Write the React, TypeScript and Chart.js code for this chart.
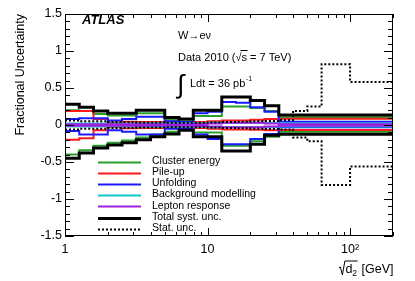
import React, { useEffect, useRef } from 'react';
import { Chart, registerables } from 'chart.js';

Chart.register(...registerables);

// Bin edges of sqrt(d2) in GeV
const binEdges = [1, 1.259, 1.585, 1.995, 2.512, 3.162, 3.981, 5.012, 6.31, 7.943, 10, 12.59, 15.85, 19.95, 25.12, 31.62, 39.81, 50.12, 63.1, 100, 200];

const clusterUp = [0.2, 0.19, 0.15, 0.13, 0.13, 0.16, 0.16, 0.07, 0.05, 0.12, 0.12, 0.25, 0.25, 0.23, 0.19, 0.105, 0.105, 0.105, 0.105, 0.105];
const clusterDown = [-0.4, -0.34, -0.28, -0.24, -0.21, -0.17, -0.13, -0.09, -0.05, -0.1, -0.1, -0.28, -0.28, -0.22, -0.16, -0.09, -0.09, -0.09, -0.09, -0.09];
const pileupUp = [0.19, 0.19, 0.08, 0.03, 0.045, 0.04, 0.04, 0.03, 0.03, 0.04, 0.05, 0.06, 0.06, 0.07, 0.08, 0.085, 0.085, 0.085, 0.085, 0.085];
const pileupDown = [-0.2, -0.18, -0.07, -0.03, -0.045, -0.04, -0.04, -0.03, -0.03, -0.04, -0.05, -0.06, -0.06, -0.065, -0.07, -0.068, -0.068, -0.068, -0.068, -0.068];
const unfoldUp = [0.08, 0.09, 0.09, 0.06, 0.08, 0.11, 0.11, 0.05, 0.04, 0.16, 0.18, 0.31, 0.3, 0.24, 0.18, 0.045, 0.045, 0.045, 0.045, 0.045];
const unfoldDown = [-0.08, -0.13, -0.13, -0.07, -0.09, -0.13, -0.13, -0.05, -0.04, -0.13, -0.19, -0.26, -0.26, -0.19, -0.12, -0.03, -0.03, -0.03, -0.03, -0.03];
const bkgUp = [0.02, 0.02, 0.02, 0.02, 0.02, 0.02, 0.025, 0.025, 0.025, 0.025, 0.03, 0.03, 0.03, 0.03, 0.03, 0.02, 0.02, 0.02, 0.02, 0.02];
const bkgDown = [-0.02, -0.02, -0.02, -0.02, -0.02, -0.02, -0.025, -0.025, -0.025, -0.025, -0.03, -0.03, -0.03, -0.03, -0.03, -0.02, -0.02, -0.02, -0.02, -0.02];
const leptonUp = [0.01, 0.01, 0.01, 0.01, 0.01, 0.01, 0.01, 0.01, 0.01, 0.015, 0.02, 0.03, 0.03, 0.03, 0.02, 0.01, 0.01, 0.01, 0.01, 0.01];
const leptonDown = [-0.01, -0.01, -0.01, -0.01, -0.01, -0.01, -0.01, -0.01, -0.01, -0.015, -0.02, -0.03, -0.03, -0.03, -0.02, -0.01, -0.01, -0.01, -0.01, -0.01];
const totalUp = [0.28, 0.24, 0.19, 0.16, 0.16, 0.2, 0.2, 0.1, 0.08, 0.2, 0.2, 0.38, 0.38, 0.33, 0.26, 0.135, 0.135, 0.135, 0.135, 0.135];
const totalDown = [-0.45, -0.38, -0.31, -0.27, -0.24, -0.2, -0.16, -0.12, -0.07, -0.16, -0.16, -0.35, -0.35, -0.26, -0.14, -0.125, -0.125, -0.125, -0.125, -0.125];
const statUp = [0.06, 0.05, 0.05, 0.04, 0.04, 0.035, 0.035, 0.03, 0.03, 0.03, 0.035, 0.04, 0.045, 0.05, 0.055, 0.068, 0.19, 0.25, 0.82, 0.58];
const statDown = [-0.06, -0.05, -0.05, -0.04, -0.04, -0.035, -0.035, -0.03, -0.03, -0.03, -0.035, -0.04, -0.045, -0.05, -0.055, -0.06, -0.17, -0.22, -0.81, -0.56];

const yTickValues = [-1.5, -1, -0.5, 0, 0.5, 1, 1.5];
const xTickValues = [1, 10, 100];
const xTickLabels = ['1', '10', '10²'];

const legendLabels = ['Cluster energy', 'Pile-up', 'Unfolding', 'Background modelling', 'Lepton response', 'Total syst. unc.', 'Stat. unc.'];

const FONT = '"Liberation Sans", Arial, Helvetica, sans-serif';
const GREEN = '#2aa02a';
const RED = '#ff1a1a';
const BLUE = '#1a1aff';
const CYAN = '#10c8c8';
const PURPLE = '#a020e0';

const styles = [
  { color: GREEN, width: 2, dash: [] as number[] },
  { color: RED, width: 2, dash: [] as number[] },
  { color: BLUE, width: 2, dash: [] as number[] },
  { color: CYAN, width: 2, dash: [] as number[] },
  { color: PURPLE, width: 2, dash: [] as number[] },
  { color: '#000000', width: 3, dash: [] as number[] },
  { color: '#000000', width: 2, dash: [2, 2] },
];

function hist(vals: number[]) {
  return binEdges.map((e, i) => ({ x: e, y: vals[Math.min(i, vals.length - 1)] }));
}

function ds(vals: number[], s: { color: string; width: number; dash: number[] }) {
  return {
    data: hist(vals),
    borderColor: s.color,
    borderWidth: s.width,
    borderDash: s.dash,
    stepped: 'before' as const,
    pointRadius: 0,
    fill: false,
    tension: 0,
  };
}

const rootPlugin = {
  id: 'rootStyle',
  afterDraw(chart: any) {
    const { ctx, chartArea: a, scales } = chart;
    const xs = scales.x;
    const ys = scales.y;
    ctx.save();
    ctx.strokeStyle = '#000';
    ctx.lineWidth = 1;
    ctx.setLineDash([]);
    const seg = (x1: number, y1: number, x2: number, y2: number) => {
      ctx.beginPath();
      ctx.moveTo(x1, y1);
      ctx.lineTo(x2, y2);
      ctx.stroke();
    };
    // frame
    ctx.strokeRect(a.left + 0.5, a.top + 0.5, a.right - a.left - 1, a.bottom - a.top - 1);
    // y ticks (inside)
    for (let k = -15; k <= 15; k++) {
      const py = Math.round(ys.getPixelForValue(k / 10)) + 0.5;
      const len = k % 5 === 0 ? 9 : 5;
      seg(a.left, py, a.left + len, py);
      seg(a.right, py, a.right - len, py);
    }
    // x ticks (inside)
    const minor: number[] = [];
    for (let d = 1; d <= 100; d *= 10) {
      for (let m = 2; m <= 9; m++) if (m * d <= 200) minor.push(m * d);
    }
    minor.forEach((v) => {
      const px = Math.round(xs.getPixelForValue(v)) + 0.5;
      seg(px, a.bottom, px, a.bottom - 4);
      seg(px, a.top, px, a.top + 4);
    });
    [10, 100].forEach((v) => {
      const px = Math.round(xs.getPixelForValue(v)) + 0.5;
      seg(px, a.bottom, px, a.bottom - 8);
      seg(px, a.top, px, a.top + 8);
    });

    ctx.fillStyle = '#000';
    ctx.textBaseline = 'alphabetic';
    ctx.textAlign = 'left';
    // ATLAS
    ctx.font = `italic bold 13px ${FONT}`;
    ctx.fillText('ATLAS', 82, 24);
    // W -> e nu
    ctx.font = `11px ${FONT}`;
    ctx.fillText('W→eν', 178, 39);
    // Data 2010 (sqrt s = 7 TeV)
    let cx = 178;
    const by = 61;
    const t1 = 'Data 2010 (';
    ctx.fillText(t1, cx, by);
    cx += ctx.measureText(t1).width;
    ctx.fillText('√', cx, by);
    cx += ctx.measureText('√').width;
    const sw = ctx.measureText('s').width;
    ctx.fillText('s', cx, by);
    seg(cx - 1, by - 10.5, cx + sw + 0.5, by - 10.5);
    cx += sw;
    ctx.fillText(' = 7 TeV)', cx, by);
    // integral
    ctx.font = `26px ${FONT}`;
    ctx.fillText('∫', 177, 93);
    ctx.font = `11px ${FONT}`;
    const t2 = 'Ldt = 36 pb';
    ctx.fillText(t2, 190, 87);
    const w2 = ctx.measureText(t2).width;
    ctx.font = `7px ${FONT}`;
    ctx.fillText('-1', 190 + w2 + 0.5, 81);

    // legend
    ctx.font = `10.5px ${FONT}`;
    ctx.textBaseline = 'middle';
    legendLabels.forEach((lab, i) => {
      const ly = 161.5 + i * 11.2;
      const s = styles[i];
      ctx.strokeStyle = s.color;
      ctx.lineWidth = s.width;
      ctx.setLineDash(s.dash);
      seg(98, Math.round(ly) + 0.5, 141, Math.round(ly) + 0.5);
      ctx.setLineDash([]);
      ctx.fillText(lab, 152, ly - 0.5);
    });

    // y axis title
    ctx.save();
    ctx.translate(24, a.top);
    ctx.rotate(-Math.PI / 2);
    ctx.textAlign = 'right';
    ctx.textBaseline = 'alphabetic';
    ctx.font = `12.5px ${FONT}`;
    ctx.fillText('Fractional Uncertainty', 0, 0);
    ctx.restore();

    // x axis title: sqrt(d2) [GeV]
    ctx.font = `12.5px ${FONT}`;
    ctx.textBaseline = 'alphabetic';
    ctx.textAlign = 'left';
    const xb = 273;
    const rest = ' [GeV]';
    const dW = ctx.measureText('d').width;
    ctx.font = `8.5px ${FONT}`;
    const twoW = ctx.measureText('2').width;
    ctx.font = `12.5px ${FONT}`;
    const restW = ctx.measureText(rest).width;
    const rootW = 6;
    let sx = a.right - restW - twoW - dW - rootW - 1;
    ctx.strokeStyle = '#000';
    ctx.lineWidth = 1;
    // radical sign
    ctx.beginPath();
    ctx.moveTo(sx, xb - 5);
    ctx.lineTo(sx + 1.5, xb - 6);
    ctx.lineTo(sx + 3.5, xb + 2);
    ctx.lineTo(sx + rootW, xb - 12);
    ctx.lineTo(sx + rootW + dW + twoW + 1, xb - 12);
    ctx.stroke();
    sx += rootW + 0.5;
    ctx.fillText('d', sx, xb);
    sx += dW;
    ctx.font = `8.5px ${FONT}`;
    ctx.fillText('2', sx, xb + 3);
    sx += twoW + 1;
    ctx.font = `12.5px ${FONT}`;
    ctx.fillText(rest, sx, xb);
    ctx.restore();
  },
};

export default function App() {
  const ref = useRef<HTMLCanvasElement | null>(null);
  useEffect(() => {
    document.body.style.margin = '0';
    if (!ref.current) return;
    const datasets = [
      ds(statUp, styles[6]), ds(statDown, styles[6]),
      ds(totalUp, styles[5]), ds(totalDown, styles[5]),
      ds(leptonUp, styles[4]), ds(leptonDown, styles[4]),
      ds(bkgUp, styles[3]), ds(bkgDown, styles[3]),
      ds(unfoldUp, styles[2]), ds(unfoldDown, styles[2]),
      ds(pileupUp, styles[1]), ds(pileupDown, styles[1]),
      ds(clusterUp, styles[0]), ds(clusterDown, styles[0]),
    ];
    const chart = new Chart(ref.current, {
      type: 'line',
      data: { datasets } as any,
      options: {
        animation: false,
        responsive: false,
        devicePixelRatio: 1,
        layout: { padding: { top: 14, right: 22, left: 0, bottom: 0 } },
        plugins: { legend: { display: false }, tooltip: { enabled: false } },
        scales: {
          x: {
            type: 'logarithmic',
            min: 1,
            max: 200,
            grid: { display: false, drawTicks: false },
            border: { display: false },
            ticks: {
              color: '#000',
              font: { family: FONT, size: 12.5 },
              padding: 6,
              maxRotation: 0,
              autoSkip: false,
              callback: (v: any) => {
                const i = xTickValues.indexOf(Number(v));
                return i >= 0 ? xTickLabels[i] : '';
              },
            },
            afterBuildTicks: (s: any) => {
              s.ticks = xTickValues.map((v) => ({ value: v, major: true }));
            },
            afterFit: (s: any) => {
              s.height = 45;
            },
          },
          y: {
            type: 'linear',
            min: -1.5,
            max: 1.5,
            grid: { display: false, drawTicks: false },
            border: { display: false },
            ticks: {
              color: '#000',
              font: { family: FONT, size: 12.5 },
              padding: 3,
              callback: (v: any) => String(Number(v)),
            },
            afterBuildTicks: (s: any) => {
              s.ticks = yTickValues.map((v) => ({ value: v }));
            },
            afterFit: (s: any) => {
              s.width = 65;
            },
          },
        },
      } as any,
      plugins: [rootPlugin],
    });
    return () => chart.destroy();
  }, []);
  return (
    <div style={{ position: 'absolute', left: 0, top: 0, width: 415, height: 281, background: '#fff' }}>
      <canvas ref={ref} width={415} height={281} />
    </div>
  );
}
